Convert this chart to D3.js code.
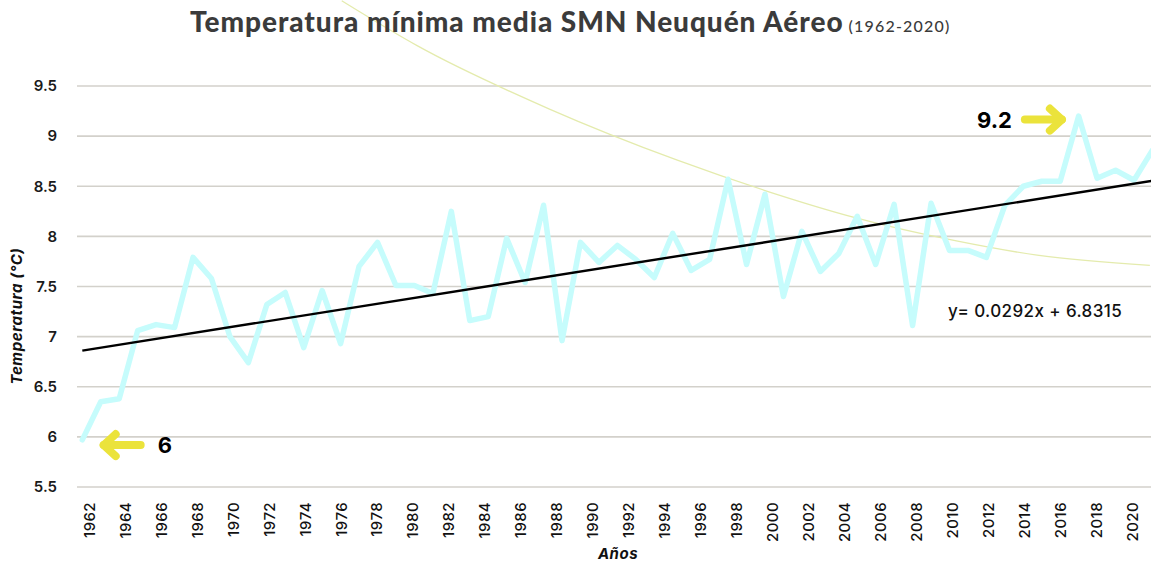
<!DOCTYPE html>
<html>
<head>
<meta charset="utf-8">
<script src="https://cdn.jsdelivr.net/npm/d3@7"></script>
<style>
  body { margin: 0; background: #fff; }
  svg { display: block; }
</style>
</head>
<body>
<svg id="chart" width="1151" height="563"></svg>
<script>
// Datos: temperatura mínima media anual, SMN Neuquén Aéreo
const years = d3.range(1962, 2021);
const tmin = [
  5.97, 6.35, 6.38, 7.06, 7.12, 7.09, 7.79, 7.58, 7.00, 6.74,
  7.32, 7.44, 6.89, 7.46, 6.93, 7.70, 7.94, 7.51, 7.51, 7.43,
  8.25, 7.16, 7.20, 7.98, 7.54, 8.31, 6.96, 7.94, 7.74, 7.91,
  7.77, 7.59, 8.03, 7.66, 7.77, 8.57, 7.72, 8.42, 7.40, 8.05,
  7.65, 7.83, 8.20, 7.72, 8.32, 7.11, 8.33, 7.86, 7.86, 7.79,
  8.31, 8.50, 8.55, 8.55, 9.20, 8.58, 8.66, 8.56, 8.86
];
const tickYears = d3.range(1962, 2021, 2);
const yTicks = [5.5, 6, 6.5, 7, 7.5, 8, 8.5, 9, 9.5];

// Tendencia lineal (x = índice 1..n)
const trendSlope = 0.0292;
const trendIntercept = 6.8315;

// Curva clara de fondo
const curveYears = [1976.06, 1980.17, 1987.32, 1994.25, 1998.96, 2003.83, 2009.24, 2013.85, 2019.86];
const curveValues = [10.35, 9.90, 9.27, 8.76, 8.46, 8.19, 7.96, 7.81, 7.71];

// Anotaciones
const notes = [
  { year: 1963.05, value: 5.918, label: '6', dir: 'left' },
  { year: 2015.2, value: 9.165, label: '9.2', dir: 'right' }
];

const svg = d3.select('#chart');
const W = 1151;
const font = 'Inter, "Open Sans", sans-serif';

// Escalas
const x = d3.scaleLinear().domain([1962, 2019]).range([82.3, 1134]);
const xAxisScale = d3.scaleLinear().domain([1962, 2020]).range([89, 1132]);
const y = d3.scaleLinear().domain([5.5, 9.5]).range([487, 86]);

svg.append('rect').attr('width', W).attr('height', 563).attr('fill', '#fff');

// Grilla
svg.append('g')
  .selectAll('line')
  .data(yTicks)
  .join('line')
  .attr('x1', 77).attr('x2', W)
  .attr('y1', d => y(d)).attr('y2', d => y(d))
  .attr('stroke', '#d3d1cb')
  .attr('stroke-width', 1.6);

// Curva clara
svg.append('path')
  .datum(curveYears.map((d, i) => [d, curveValues[i]]))
  .attr('fill', 'none')
  .attr('stroke', '#e4ebad')
  .attr('stroke-width', 1.3)
  .attr('d', d3.line().x(d => x(d[0])).y(d => y(d[1])).curve(d3.curveMonotoneX));

// Serie
svg.append('path')
  .datum(years.map((d, i) => [d, tmin[i]]))
  .attr('fill', 'none')
  .attr('stroke', '#c6fcfc')
  .attr('stroke-width', 5.5)
  .attr('stroke-linejoin', 'round')
  .attr('stroke-linecap', 'round')
  .attr('d', d3.line().x(d => x(d[0])).y(d => y(d[1])));

// Tendencia
const trendEnds = [years[0], years[years.length - 1]];
svg.append('path')
  .datum(trendEnds.map(d => [d, trendSlope * (d - 1961) + trendIntercept]))
  .attr('fill', 'none')
  .attr('stroke', '#000')
  .attr('stroke-width', 2.4)
  .attr('d', d3.line().x(d => x(d[0])).y(d => y(d[1])));

// Ecuación
svg.append('text')
  .attr('x', 948).attr('y', 317)
  .attr('font-family', font)
  .attr('font-size', 17).attr('font-weight', 500)
  .attr('letter-spacing', 0.4)
  .attr('fill', '#111')
  .text('y= 0.0292x + 6.8315');

// Flechas y etiquetas
const yellow = '#ebe33b';
notes.forEach(n => {
  const tx = x(n.year), ty = y(n.value);
  const s = n.dir === 'left' ? 1 : -1;
  const g = svg.append('g')
    .attr('fill', 'none').attr('stroke', yellow)
    .attr('stroke-width', 8).attr('stroke-linecap', 'round').attr('stroke-linejoin', 'round');
  g.append('line').attr('x1', tx + s * 2).attr('y1', ty).attr('x2', tx + s * 39).attr('y2', ty);
  g.append('path').attr('d', `M${tx + s * 14},${ty - 11} L${tx + s * 2},${ty} L${tx + s * 14},${ty + 11}`);
  svg.append('text')
    .attr('x', n.dir === 'left' ? tx + 56 : tx - 52)
    .attr('y', ty + 8)
    .attr('text-anchor', n.dir === 'left' ? 'start' : 'end')
    .attr('font-family', font)
    .attr('font-size', 22).attr('font-weight', 700)
    .attr('fill', '#000')
    .text(n.label);
});

// Eje Y
const yAxis = svg.append('g')
  .attr('transform', 'translate(77,0)')
  .call(d3.axisLeft(y).tickValues(yTicks).tickSize(0).tickPadding(20).tickFormat(d3.format('~g')));
yAxis.select('.domain').remove();
yAxis.selectAll('text')
  .attr('font-family', font)
  .attr('font-size', 15).attr('font-weight', 600)
  .attr('fill', '#1a1a1a');

// Eje X
const xAxis = svg.append('g')
  .attr('transform', 'translate(0,500)')
  .call(d3.axisBottom(xAxisScale).tickValues(tickYears).tickSize(0).tickFormat(d3.format('d')));
xAxis.select('.domain').remove();
xAxis.selectAll('text')
  .attr('transform', 'rotate(-90)')
  .attr('text-anchor', 'end')
  .attr('x', -2).attr('y', 0).attr('dy', '0.35em')
  .attr('font-family', font)
  .attr('font-size', 15).attr('font-weight', 500)
  .attr('letter-spacing', 0.4)
  .attr('fill', '#111');

// Títulos de ejes
svg.append('text')
  .attr('transform', 'translate(22,316) rotate(-90)')
  .attr('text-anchor', 'middle')
  .attr('font-family', font)
  .attr('font-size', 15).attr('font-weight', 700).attr('font-style', 'italic')
  .attr('letter-spacing', 0.6)
  .attr('fill', '#111')
  .text('Temperatura (°C)');

svg.append('text')
  .attr('x', 618).attr('y', 559)
  .attr('text-anchor', 'middle')
  .attr('font-family', font)
  .attr('font-size', 15).attr('font-weight', 700).attr('font-style', 'italic')
  .attr('letter-spacing', 0.5)
  .attr('fill', '#111')
  .text('Años');

// Título
const title = svg.append('text')
  .attr('x', 190).attr('y', 32)
  .attr('font-family', 'Lato, Inter, sans-serif')
  .attr('fill', '#3b3b3b');
title.append('tspan')
  .attr('font-size', 28).attr('font-weight', 900)
  .attr('letter-spacing', 0.95)
  .text('Temperatura mínima media SMN Neuquén Aéreo');
title.append('tspan')
  .attr('dx', 5)
  .attr('font-size', 16).attr('font-weight', 500)
  .attr('letter-spacing', 1.2)
  .text('(1962-2020)');
</script>
</body>
</html>
